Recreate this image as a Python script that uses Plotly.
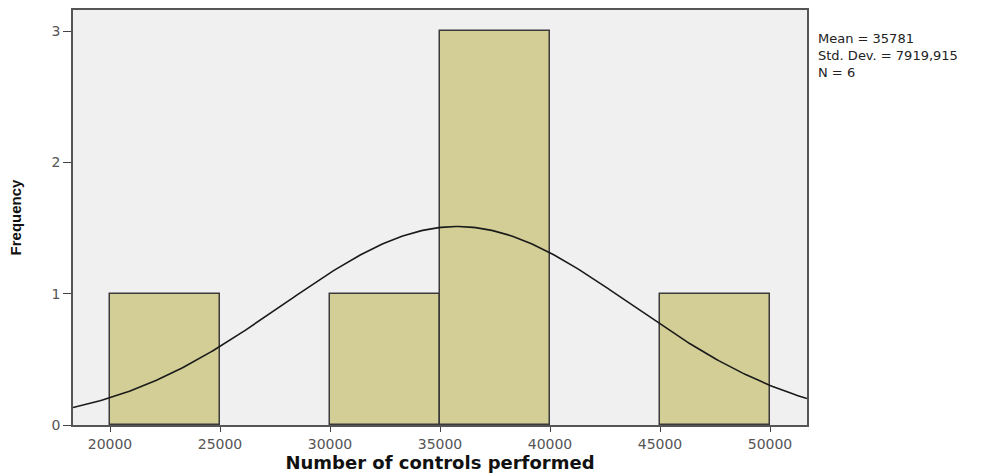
import numpy as np
import plotly.graph_objects as go

# Histogram data
bin_starts = [20000, 30000, 35000, 45000]
counts = [1, 1, 3, 1]
bin_width = 5000
mean_val = 35781
sd_val = 7919.915
n_val = 6
x_ticks = [20000, 25000, 30000, 35000, 40000, 45000, 50000]
x_tick_labels = ["20000", "25000", "30000", "35000", "40000", "45000", "50000"]
y_ticks = [0, 1, 2, 3]

x_range = [18318, 51682]
y_range = [0, 3.16]

centers = [s + bin_width / 2 for s in bin_starts]

fig = go.Figure()
fig.add_trace(go.Bar(
    x=centers, y=counts, width=[bin_width] * len(counts),
    marker=dict(color="#d3cd96", line=dict(color="#3a3a3a", width=1.5)),
    showlegend=False, hoverinfo="skip",
))

xs = np.linspace(x_range[0], x_range[1], 300)
ys = n_val * bin_width / (sd_val * np.sqrt(2 * np.pi)) * np.exp(-0.5 * ((xs - mean_val) / sd_val) ** 2)
fig.add_trace(go.Scatter(x=xs, y=ys, mode="lines",
                         line=dict(color="#1a1a1a", width=1.6),
                         showlegend=False, hoverinfo="skip"))

fig.add_annotation(
    x=1.012, y=0.955, xref="paper", yref="paper", xanchor="left", yanchor="top",
    align="left", showarrow=False,
    text="Mean = 35781<br>Std. Dev. = 7919,915<br>N = 6",
    font=dict(family="DejaVu Sans", size=13, color="#222"),
)

fig.update_layout(
    width=1000, height=474,
    margin=dict(l=73, r=193, t=10, b=49),
    paper_bgcolor="white", plot_bgcolor="#f0f0f0",
    bargap=0,
    xaxis=dict(range=x_range, tickvals=x_ticks, ticktext=x_tick_labels,
               ticks="outside", ticklen=5, automargin=False,
               tickcolor="#444", showgrid=False, zeroline=False,
               showline=True, linecolor="#555", linewidth=1.5, mirror=True,
               tickfont=dict(family="DejaVu Sans", size=14, color="#555"),
               title=dict(text="<b>Number of controls performed</b>",
                          font=dict(family="DejaVu Sans", size=18, color="#111"),
                          standoff=0)),
    yaxis=dict(range=y_range, tickvals=y_ticks, ticks="outside", ticklen=8,
               automargin=False,
               tickcolor="#444", showgrid=False, zeroline=False,
               showline=True, linecolor="#555", linewidth=1.5, mirror=True,
               tickfont=dict(family="DejaVu Sans", size=14, color="#555"),
               title=dict(text="<b>Frequency</b>",
                          font=dict(family="Liberation Sans Narrow, Liberation Sans", size=15, color="#111"),
                          standoff=26)),
)

fig.write_html("out.html", config={"displayModeBar": False},
               post_script="document.body.style.margin='0';document.body.style.overflow='hidden';")
